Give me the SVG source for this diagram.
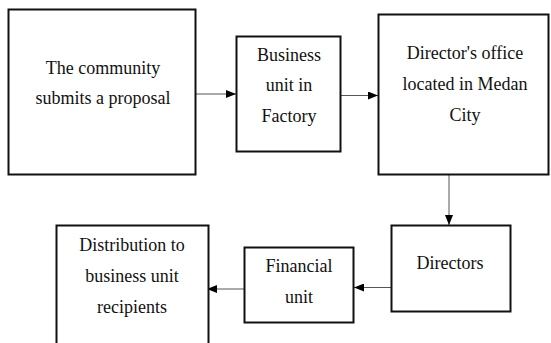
<svg xmlns="http://www.w3.org/2000/svg" width="551" height="343" viewBox="0 0 551 343">
<style>
.box{fill:#fff;stroke:#111;stroke-width:2}
.t{font-family:"Liberation Serif","Times New Roman",serif;font-size:18px;fill:#111;text-anchor:middle}
.c{stroke:#555;stroke-width:1;fill:none;marker-end:url(#ah)}
</style>
<defs>
<marker id="ah" markerWidth="10" markerHeight="8" refX="10" refY="4" orient="auto" markerUnits="userSpaceOnUse">
<path d="M0,0 L10,4 L0,8 Z" fill="#000"/>
</marker>
</defs>
<rect width="551" height="343" fill="#fff"/>
<g id="connectors">
<line class="c" x1="196" y1="94" x2="236" y2="94"/>
<line class="c" x1="341" y1="95.5" x2="378" y2="95.5"/>
<line class="c" x1="449" y1="174" x2="449" y2="225"/>
<line class="c" x1="391" y1="287.5" x2="354" y2="287.5"/>
<line class="c" x1="244" y1="289" x2="207" y2="289"/>
</g>
<g id="n1"><rect class="box" x="8.5" y="9.5" width="187" height="165"/>
<text class="t" x="103" y="74">The community</text><text class="t" x="103" y="104">submits a proposal</text></g>
<g id="n2"><rect class="box" x="236.5" y="36.5" width="104" height="115"/>
<text class="t" x="289" y="61">Business</text><text class="t" x="289" y="91">unit in</text><text class="t" x="289" y="122">Factory</text></g>
<g id="n3"><rect class="box" x="378.5" y="14.5" width="170" height="160"/>
<text class="t" x="465" y="59">Director's office</text><text class="t" x="465" y="90">located in Medan</text><text class="t" x="465" y="121">City</text></g>
<g id="n4"><rect class="box" x="391.5" y="225.5" width="119" height="86"/>
<text class="t" x="450" y="269">Directors</text></g>
<g id="n5"><rect class="box" x="244.5" y="247.5" width="109" height="75"/>
<text class="t" x="299" y="272">Financial</text><text class="t" x="299" y="303">unit</text></g>
<g id="n6"><rect class="box" x="56.5" y="225.5" width="152" height="130"/>
<text class="t" x="132" y="251">Distribution to</text><text class="t" x="132" y="282">business unit</text><text class="t" x="132" y="313">recipients</text></g>
</svg>
